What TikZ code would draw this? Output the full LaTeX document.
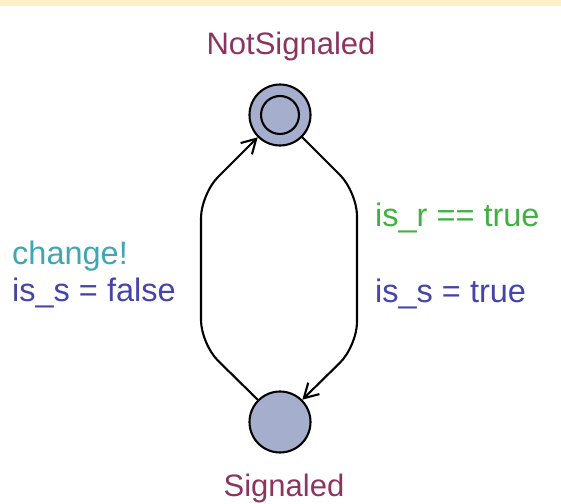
\documentclass[tikz,border=0pt]{standalone}
\usepackage{fontspec}
\setmainfont{Liberation Sans}
\usetikzlibrary{arrows.meta}
\definecolor{bandyellow}{RGB}{255,240,200}
\definecolor{locfill}{RGB}{166,174,206}
\definecolor{locname}{RGB}{140,52,96}
\definecolor{syncol}{RGB}{64,166,176}
\definecolor{updcol}{RGB}{68,68,170}
\definecolor{guardcol}{RGB}{64,176,64}
\tikzset{
  location/.style={circle, draw=black, line width=2.1pt, fill=locfill,
    minimum size=61pt, inner sep=0pt},
  inner ring/.style={circle, draw=black, line width=2.1pt, minimum size=38pt, inner sep=0pt},
  locname/.style={text=locname, font=\fontsize{31}{36}\selectfont, inner sep=0pt},
  edgelabel/.style={font=\fontsize{32.5}{38}\selectfont, inner sep=0pt, anchor=base west},
  transition/.style={draw=black, line width=2.1pt, rounded corners=24pt,
    -{Straight Barb[length=14pt, width=16pt, line width=2.1pt]}}
}
\begin{document}
\begin{tikzpicture}[x=1pt, y=-1pt]
  \useasboundingbox (0,0) rectangle (561,503);
  \fill[bandyellow] (0,0) rectangle (561,6);

  % locations
  \node[location] (notsig) at (280,115) {};
  \node[inner ring] (notsigin) at (notsig.center) {};
  \node[location] (sig) at (280,422) {};

  \node[locname, anchor=base] (notsiglbl) at (291,55) {NotSignaled};
  \node[locname, anchor=base] (siglbl) at (284,496) {Signaled};

  % bend points of the two transitions
  \coordinate (l1) at (201,344);
  \coordinate (l2) at (201,194);
  \coordinate (r1) at (357,192);
  \coordinate (r2) at (357,346);

  \draw[transition] (sig.135) -- (l1) -- (l2) -- (notsig.225);
  \draw[transition] (notsig.-45) -- (r1) -- (r2) -- (sig.45);

  % transition labels
  \node[edgelabel, text=syncol] (sync) at (12,264) {change!};
  \node[edgelabel, text=updcol] (updl) at (12,301) {is\_s = false};
  \node[edgelabel, text=guardcol] (guard) at (375,226) {is\_r == true};
  \node[edgelabel, text=updcol] (updr) at (375,302) {is\_s = true};
\end{tikzpicture}
\end{document}
